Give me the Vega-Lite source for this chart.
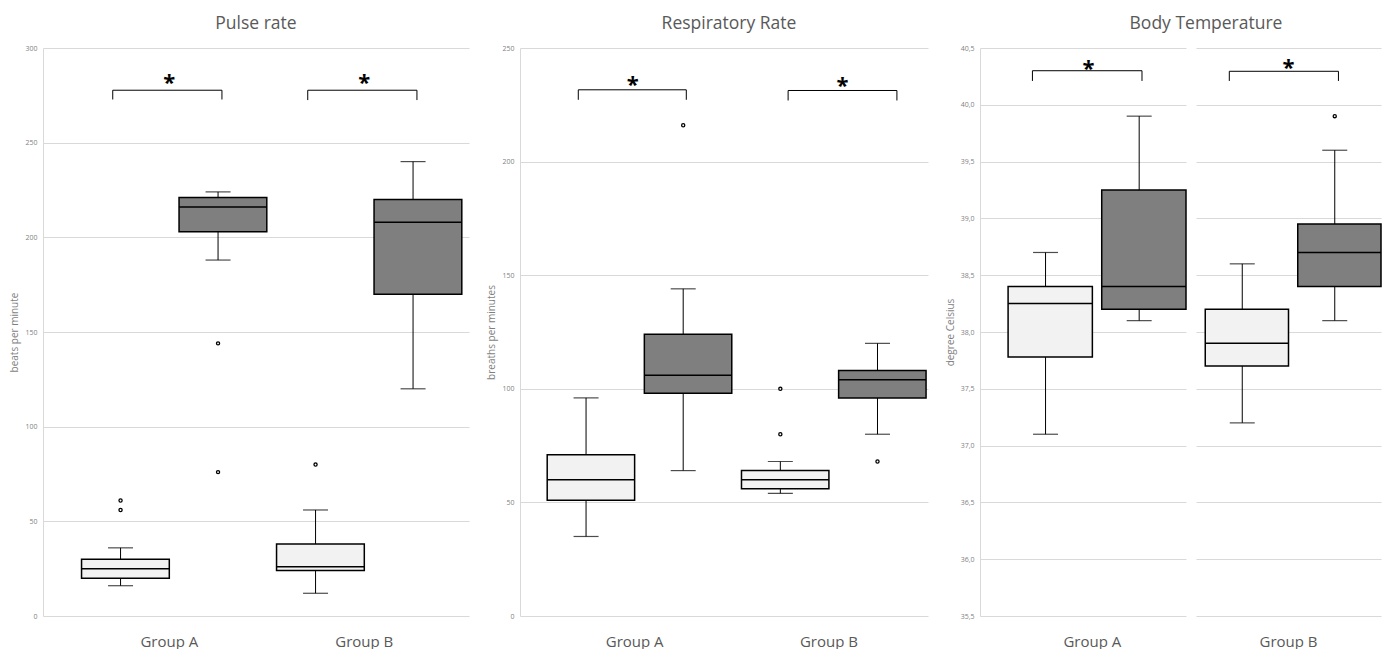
{
  "$schema": "https://vega.github.io/schema/vega-lite/v6.json",
  "padding": {"left": 9, "top": 14, "right": 0, "bottom": 0},
  "spacing": 17,
  "background": "white",
  "datasets": {
    "boxes": [
      {"panel": "Pulse rate", "group": "Group A", "series": "Series 1", "lower": 16, "q1": 20, "median": 25, "q3": 30, "upper": 36},
      {"panel": "Pulse rate", "group": "Group A", "series": "Series 2", "lower": 188, "q1": 203, "median": 216, "q3": 221, "upper": 224},
      {"panel": "Pulse rate", "group": "Group B", "series": "Series 1", "lower": 12, "q1": 24, "median": 26, "q3": 38, "upper": 56},
      {"panel": "Pulse rate", "group": "Group B", "series": "Series 2", "lower": 120, "q1": 170, "median": 208, "q3": 220, "upper": 240},
      {"panel": "Respiratory Rate", "group": "Group A", "series": "Series 1", "lower": 35, "q1": 51, "median": 60, "q3": 71, "upper": 96},
      {"panel": "Respiratory Rate", "group": "Group A", "series": "Series 2", "lower": 64, "q1": 98, "median": 106, "q3": 124, "upper": 144},
      {"panel": "Respiratory Rate", "group": "Group B", "series": "Series 1", "lower": 54, "q1": 56, "median": 60, "q3": 64, "upper": 68},
      {"panel": "Respiratory Rate", "group": "Group B", "series": "Series 2", "lower": 80, "q1": 96, "median": 104, "q3": 108, "upper": 120},
      {"panel": "Body Temperature", "group": "Group A", "series": "Series 1", "lower": 37.1, "q1": 37.78, "median": 38.25, "q3": 38.4, "upper": 38.7},
      {"panel": "Body Temperature", "group": "Group A", "series": "Series 2", "lower": 38.1, "q1": 38.2, "median": 38.4, "q3": 39.25, "upper": 39.9},
      {"panel": "Body Temperature", "group": "Group B", "series": "Series 1", "lower": 37.2, "q1": 37.7, "median": 37.9, "q3": 38.2, "upper": 38.6},
      {"panel": "Body Temperature", "group": "Group B", "series": "Series 2", "lower": 38.1, "q1": 38.4, "median": 38.7, "q3": 38.95, "upper": 39.6}
    ],
    "outliers": [
      {"panel": "Pulse rate", "group": "Group A", "series": "Series 1", "value": 61},
      {"panel": "Pulse rate", "group": "Group A", "series": "Series 1", "value": 56},
      {"panel": "Pulse rate", "group": "Group A", "series": "Series 2", "value": 144},
      {"panel": "Pulse rate", "group": "Group A", "series": "Series 2", "value": 76},
      {"panel": "Pulse rate", "group": "Group B", "series": "Series 1", "value": 80},
      {"panel": "Respiratory Rate", "group": "Group A", "series": "Series 2", "value": 216},
      {"panel": "Respiratory Rate", "group": "Group B", "series": "Series 1", "value": 100},
      {"panel": "Respiratory Rate", "group": "Group B", "series": "Series 1", "value": 80},
      {"panel": "Respiratory Rate", "group": "Group B", "series": "Series 2", "value": 68},
      {"panel": "Body Temperature", "group": "Group B", "series": "Series 2", "value": 39.9}
    ],
    "brackets": [
      {"panel": "Pulse rate", "group": "Group A", "top": 277.7, "leg": 272.8, "star": 284.6, "label": "*"},
      {"panel": "Pulse rate", "group": "Group B", "top": 277.7, "leg": 272.5, "star": 284.5, "label": "*"},
      {"panel": "Respiratory Rate", "group": "Group A", "top": 231.6, "leg": 227.2, "star": 236.5, "label": "*"},
      {"panel": "Respiratory Rate", "group": "Group B", "top": 231.3, "leg": 226.9, "star": 235.7, "label": "*"},
      {"panel": "Body Temperature", "group": "Group A", "top": 40.3, "leg": 40.21, "star": 40.37, "label": "*"},
      {"panel": "Body Temperature", "group": "Group B", "top": 40.295, "leg": 40.21, "star": 40.38, "label": "*"}
    ]
  },
  "config": {
    "font": "Open Sans",
    "view": {"stroke": null},
    "axisY": {"grid": true, "gridColor": "#d9d9d9", "gridWidth": 1, "domainColor": "#d9d9d9", "ticks": false, "tickSize": 0, "labelFontSize": 7, "labelColor": "#7f7f7f", "labelPadding": 6, "titleFontSize": 10, "titleColor": "#7f7f7f", "titleFontWeight": "normal", "titlePadding": 5},
    "axisX": {"domain": false, "ticks": false, "tickSize": 0, "grid": false, "labelAngle": 0, "labelFontSize": 15, "labelColor": "#595959", "labelPadding": 18},
    "title": {"fontSize": 17.5, "fontWeight": "normal", "color": "#595959", "frame": "group", "anchor": "middle", "offset": 12}
  },
  "resolve": {"scale": {"x": "independent", "y": "independent", "xOffset": "independent"}},
  "hconcat": [
    {
      "title": {"text": "Pulse rate", "anchor": "middle"},
      "width": 426, "height": 568,
      "layer": [
        {"data": {"name": "boxes"}, "transform": [{"filter": "datum.panel == 'Pulse rate'"}],
         "mark": {"type": "rule", "color": "#000000", "strokeWidth": 1},
         "encoding": {
           "x": {"field": "group", "type": "nominal", "title": null, "scale": {"paddingInner": 0, "paddingOuter": 0.0923, "align": 0.8}},
           "xOffset": {"field": "series", "type": "nominal", "scale": {"domain": ["Series 1", "Series 2"], "paddingInner": 0, "paddingOuter": 0}},
           "y": {"field": "lower", "type": "quantitative", "scale": {"domain": [0, 300], "nice": false}, "axis": {"title": "beats per minute", "values": [0, 50, 100, 150, 200, 250, 300]}},
           "y2": {"field": "upper"}
         }},
        {"data": {"name": "boxes"}, "transform": [{"filter": "datum.panel == 'Pulse rate'"}],
         "mark": {"type": "tick", "color": "#000000", "size": 25, "thickness": 1.2},
         "encoding": {"x": {"field": "group", "type": "nominal", "title": null}, "xOffset": {"field": "series", "type": "nominal"}, "y": {"field": "lower", "type": "quantitative"}}},
        {"data": {"name": "boxes"}, "transform": [{"filter": "datum.panel == 'Pulse rate'"}],
         "mark": {"type": "tick", "color": "#000000", "size": 25, "thickness": 1.2},
         "encoding": {"x": {"field": "group", "type": "nominal", "title": null}, "xOffset": {"field": "series", "type": "nominal"}, "y": {"field": "upper", "type": "quantitative"}}},
        {"data": {"name": "boxes"}, "transform": [{"filter": "datum.panel == 'Pulse rate'"}],
         "mark": {"type": "bar", "stroke": "#000000", "strokeWidth": 1.5, "width": {"band": 0.9}},
         "encoding": {"x": {"field": "group", "type": "nominal", "title": null}, "xOffset": {"field": "series", "type": "nominal"}, "y": {"field": "q1", "type": "quantitative"}, "y2": {"field": "q3"},
           "fill": {"field": "series", "type": "nominal", "scale": {"domain": ["Series 1", "Series 2"], "range": ["#f2f2f2", "#7f7f7f"]}, "legend": null}}},
        {"data": {"name": "boxes"}, "transform": [{"filter": "datum.panel == 'Pulse rate'"}],
         "mark": {"type": "bar", "fill": null, "stroke": "#000000", "strokeWidth": 1.5, "width": {"band": 0.9}},
         "encoding": {"x": {"field": "group", "type": "nominal", "title": null}, "xOffset": {"field": "series", "type": "nominal"}, "y": {"field": "median", "type": "quantitative"}, "y2": {"field": "median"}}},
        {"data": {"name": "outliers"}, "transform": [{"filter": "datum.panel == 'Pulse rate'"}],
         "mark": {"type": "point", "filled": true, "fill": "#ffffff", "stroke": "#000000", "strokeWidth": 1.3, "size": 10, "opacity": 1},
         "encoding": {"x": {"field": "group", "type": "nominal", "title": null}, "xOffset": {"field": "series", "type": "nominal"}, "y": {"field": "value", "type": "quantitative"}}},
        {"data": {"name": "brackets"}, "transform": [{"filter": "datum.panel == 'Pulse rate'"}],
         "mark": {"type": "rule", "color": "#000000", "strokeWidth": 1},
         "encoding": {"x": {"field": "group", "type": "nominal", "title": null, "bandPosition": 0.21}, "x2": {"field": "group", "bandPosition": 0.77}, "y": {"field": "top", "type": "quantitative"}}},
        {"data": {"name": "brackets"}, "transform": [{"filter": "datum.panel == 'Pulse rate'"}],
         "mark": {"type": "rule", "color": "#000000", "strokeWidth": 1},
         "encoding": {"x": {"field": "group", "type": "nominal", "title": null, "bandPosition": 0.21}, "y": {"field": "top", "type": "quantitative"}, "y2": {"field": "leg"}}},
        {"data": {"name": "brackets"}, "transform": [{"filter": "datum.panel == 'Pulse rate'"}],
         "mark": {"type": "rule", "color": "#000000", "strokeWidth": 1},
         "encoding": {"x": {"field": "group", "type": "nominal", "title": null, "bandPosition": 0.77}, "y": {"field": "top", "type": "quantitative"}, "y2": {"field": "leg"}}},
        {"data": {"name": "brackets"}, "transform": [{"filter": "datum.panel == 'Pulse rate'"}],
         "mark": {"type": "text", "color": "#000000", "fontSize": 22, "fontWeight": "bold", "baseline": "middle", "dy": 6},
         "encoding": {"x": {"field": "group", "type": "nominal", "title": null, "bandPosition": 0.5}, "y": {"field": "star", "type": "quantitative"}, "text": {"field": "label"}}}
      ]
    },
    {
      "title": {"text": "Respiratory Rate", "dx": 5, "anchor": "middle"},
      "width": 408, "height": 568,
      "layer": [
        {"data": {"name": "boxes"}, "transform": [{"filter": "datum.panel == 'Respiratory Rate'"}],
         "mark": {"type": "rule", "color": "#000000", "strokeWidth": 1},
         "encoding": {
           "x": {"field": "group", "type": "nominal", "title": null, "scale": {"paddingInner": 0, "paddingOuter": 0.05, "align": 0.9}},
           "xOffset": {"field": "series", "type": "nominal", "scale": {"domain": ["Series 1", "Series 2"], "paddingInner": 0, "paddingOuter": 0}},
           "y": {"field": "lower", "type": "quantitative", "scale": {"domain": [0, 250], "nice": false}, "axis": {"title": "breaths per minutes", "values": [0, 50, 100, 150, 200, 250]}},
           "y2": {"field": "upper"}
         }},
        {"data": {"name": "boxes"}, "transform": [{"filter": "datum.panel == 'Respiratory Rate'"}],
         "mark": {"type": "tick", "color": "#000000", "size": 25, "thickness": 1.2},
         "encoding": {"x": {"field": "group", "type": "nominal", "title": null}, "xOffset": {"field": "series", "type": "nominal"}, "y": {"field": "lower", "type": "quantitative"}}},
        {"data": {"name": "boxes"}, "transform": [{"filter": "datum.panel == 'Respiratory Rate'"}],
         "mark": {"type": "tick", "color": "#000000", "size": 25, "thickness": 1.2},
         "encoding": {"x": {"field": "group", "type": "nominal", "title": null}, "xOffset": {"field": "series", "type": "nominal"}, "y": {"field": "upper", "type": "quantitative"}}},
        {"data": {"name": "boxes"}, "transform": [{"filter": "datum.panel == 'Respiratory Rate'"}],
         "mark": {"type": "bar", "stroke": "#000000", "strokeWidth": 1.5, "width": {"band": 0.9}},
         "encoding": {"x": {"field": "group", "type": "nominal", "title": null}, "xOffset": {"field": "series", "type": "nominal"}, "y": {"field": "q1", "type": "quantitative"}, "y2": {"field": "q3"},
           "fill": {"field": "series", "type": "nominal", "scale": {"domain": ["Series 1", "Series 2"], "range": ["#f2f2f2", "#7f7f7f"]}, "legend": null}}},
        {"data": {"name": "boxes"}, "transform": [{"filter": "datum.panel == 'Respiratory Rate'"}],
         "mark": {"type": "bar", "fill": null, "stroke": "#000000", "strokeWidth": 1.5, "width": {"band": 0.9}},
         "encoding": {"x": {"field": "group", "type": "nominal", "title": null}, "xOffset": {"field": "series", "type": "nominal"}, "y": {"field": "median", "type": "quantitative"}, "y2": {"field": "median"}}},
        {"data": {"name": "outliers"}, "transform": [{"filter": "datum.panel == 'Respiratory Rate'"}],
         "mark": {"type": "point", "filled": true, "fill": "#ffffff", "stroke": "#000000", "strokeWidth": 1.3, "size": 10, "opacity": 1},
         "encoding": {"x": {"field": "group", "type": "nominal", "title": null}, "xOffset": {"field": "series", "type": "nominal"}, "y": {"field": "value", "type": "quantitative"}}},
        {"data": {"name": "brackets"}, "transform": [{"filter": "datum.panel == 'Respiratory Rate' && datum.group == 'Group A'"}],
         "mark": {"type": "rule", "color": "#000000", "strokeWidth": 1},
         "encoding": {"x": {"field": "group", "type": "nominal", "title": null, "bandPosition": 0.21}, "x2": {"field": "group", "bandPosition": 0.766}, "y": {"field": "top", "type": "quantitative"}}},
        {"data": {"name": "brackets"}, "transform": [{"filter": "datum.panel == 'Respiratory Rate' && datum.group == 'Group A'"}],
         "mark": {"type": "rule", "color": "#000000", "strokeWidth": 1},
         "encoding": {"x": {"field": "group", "type": "nominal", "title": null, "bandPosition": 0.21}, "y": {"field": "top", "type": "quantitative"}, "y2": {"field": "leg"}}},
        {"data": {"name": "brackets"}, "transform": [{"filter": "datum.panel == 'Respiratory Rate' && datum.group == 'Group A'"}],
         "mark": {"type": "rule", "color": "#000000", "strokeWidth": 1},
         "encoding": {"x": {"field": "group", "type": "nominal", "title": null, "bandPosition": 0.766}, "y": {"field": "top", "type": "quantitative"}, "y2": {"field": "leg"}}},
        {"data": {"name": "brackets"}, "transform": [{"filter": "datum.panel == 'Respiratory Rate' && datum.group == 'Group A'"}],
         "mark": {"type": "text", "color": "#000000", "fontSize": 22, "fontWeight": "bold", "baseline": "middle", "dy": 6},
         "encoding": {"x": {"field": "group", "type": "nominal", "title": null, "bandPosition": 0.49}, "y": {"field": "star", "type": "quantitative"}, "text": {"field": "label"}}},
        {"data": {"name": "brackets"}, "transform": [{"filter": "datum.panel == 'Respiratory Rate' && datum.group == 'Group B'"}],
         "mark": {"type": "rule", "color": "#000000", "strokeWidth": 1},
         "encoding": {"x": {"field": "group", "type": "nominal", "title": null, "bandPosition": 0.29}, "x2": {"field": "group", "bandPosition": 0.85}, "y": {"field": "top", "type": "quantitative"}}},
        {"data": {"name": "brackets"}, "transform": [{"filter": "datum.panel == 'Respiratory Rate' && datum.group == 'Group B'"}],
         "mark": {"type": "rule", "color": "#000000", "strokeWidth": 1},
         "encoding": {"x": {"field": "group", "type": "nominal", "title": null, "bandPosition": 0.29}, "y": {"field": "top", "type": "quantitative"}, "y2": {"field": "leg"}}},
        {"data": {"name": "brackets"}, "transform": [{"filter": "datum.panel == 'Respiratory Rate' && datum.group == 'Group B'"}],
         "mark": {"type": "rule", "color": "#000000", "strokeWidth": 1},
         "encoding": {"x": {"field": "group", "type": "nominal", "title": null, "bandPosition": 0.85}, "y": {"field": "top", "type": "quantitative"}, "y2": {"field": "leg"}}},
        {"data": {"name": "brackets"}, "transform": [{"filter": "datum.panel == 'Respiratory Rate' && datum.group == 'Group B'"}],
         "mark": {"type": "text", "color": "#000000", "fontSize": 22, "fontWeight": "bold", "baseline": "middle", "dy": 6},
         "encoding": {"x": {"field": "group", "type": "nominal", "title": null, "bandPosition": 0.57}, "y": {"field": "star", "type": "quantitative"}, "text": {"field": "label"}}}
      ]
    },
    {
      "title": {"text": "Body Temperature", "dx": 226, "anchor": "middle", "frame": "group"},
      "spacing": 9,
      "resolve": {"scale": {"x": "independent", "y": "independent", "xOffset": "independent"}},
      "hconcat": [
        {
          "width": 206, "height": 568,
          "layer": [
            {"data": {"name": "boxes"}, "transform": [{"filter": "datum.panel == 'Body Temperature' && datum.group == 'Group A'"}],
             "mark": {"type": "rule", "color": "#000000", "strokeWidth": 1},
             "encoding": {
               "x": {"field": "group", "type": "nominal", "title": null, "scale": {"paddingInner": 0, "paddingOuter": 0.05, "align": 1}},
               "xOffset": {"field": "series", "type": "nominal", "scale": {"domain": ["Series 1", "Series 2"], "paddingInner": 0, "paddingOuter": 0}},
               "y": {"field": "lower", "type": "quantitative", "scale": {"domain": [35.5, 40.5], "nice": false, "zero": false}, "axis": {"title": "degree Celsius", "values": [35.5, 36, 36.5, 37, 37.5, 38, 38.5, 39, 39.5, 40, 40.5], "labelExpr": "replace(format(datum.value, '.1f'), '.', ',')"}},
               "y2": {"field": "upper"}
             }},
            {"data": {"name": "boxes"}, "transform": [{"filter": "datum.panel == 'Body Temperature' && datum.group == 'Group A'"}],
             "mark": {"type": "tick", "color": "#000000", "size": 25, "thickness": 1.2},
             "encoding": {"x": {"field": "group", "type": "nominal", "title": null}, "xOffset": {"field": "series", "type": "nominal"}, "y": {"field": "lower", "type": "quantitative"}}},
            {"data": {"name": "boxes"}, "transform": [{"filter": "datum.panel == 'Body Temperature' && datum.group == 'Group A'"}],
             "mark": {"type": "tick", "color": "#000000", "size": 25, "thickness": 1.2},
             "encoding": {"x": {"field": "group", "type": "nominal", "title": null}, "xOffset": {"field": "series", "type": "nominal"}, "y": {"field": "upper", "type": "quantitative"}}},
            {"data": {"name": "boxes"}, "transform": [{"filter": "datum.panel == 'Body Temperature' && datum.group == 'Group A'"}],
             "mark": {"type": "bar", "stroke": "#000000", "strokeWidth": 1.5, "width": {"band": 0.9}},
             "encoding": {"x": {"field": "group", "type": "nominal", "title": null}, "xOffset": {"field": "series", "type": "nominal"}, "y": {"field": "q1", "type": "quantitative"}, "y2": {"field": "q3"},
               "fill": {"field": "series", "type": "nominal", "scale": {"domain": ["Series 1", "Series 2"], "range": ["#f2f2f2", "#7f7f7f"]}, "legend": null}}},
            {"data": {"name": "boxes"}, "transform": [{"filter": "datum.panel == 'Body Temperature' && datum.group == 'Group A'"}],
             "mark": {"type": "bar", "fill": null, "stroke": "#000000", "strokeWidth": 1.5, "width": {"band": 0.9}},
             "encoding": {"x": {"field": "group", "type": "nominal", "title": null}, "xOffset": {"field": "series", "type": "nominal"}, "y": {"field": "median", "type": "quantitative"}, "y2": {"field": "median"}}},
            {"data": {"name": "brackets"}, "transform": [{"filter": "datum.panel == 'Body Temperature' && datum.group == 'Group A'"}],
             "mark": {"type": "rule", "color": "#000000", "strokeWidth": 1},
             "encoding": {"x": {"field": "group", "type": "nominal", "title": null, "bandPosition": 0.18}, "x2": {"field": "group", "bandPosition": 0.765}, "y": {"field": "top", "type": "quantitative"}}},
            {"data": {"name": "brackets"}, "transform": [{"filter": "datum.panel == 'Body Temperature' && datum.group == 'Group A'"}],
             "mark": {"type": "rule", "color": "#000000", "strokeWidth": 1},
             "encoding": {"x": {"field": "group", "type": "nominal", "title": null, "bandPosition": 0.18}, "y": {"field": "top", "type": "quantitative"}, "y2": {"field": "leg"}}},
            {"data": {"name": "brackets"}, "transform": [{"filter": "datum.panel == 'Body Temperature' && datum.group == 'Group A'"}],
             "mark": {"type": "rule", "color": "#000000", "strokeWidth": 1},
             "encoding": {"x": {"field": "group", "type": "nominal", "title": null, "bandPosition": 0.765}, "y": {"field": "top", "type": "quantitative"}, "y2": {"field": "leg"}}},
            {"data": {"name": "brackets"}, "transform": [{"filter": "datum.panel == 'Body Temperature' && datum.group == 'Group A'"}],
             "mark": {"type": "text", "color": "#000000", "fontSize": 22, "fontWeight": "bold", "baseline": "middle", "dy": 6},
             "encoding": {"x": {"field": "group", "type": "nominal", "title": null, "bandPosition": 0.48}, "y": {"field": "star", "type": "quantitative"}, "text": {"field": "label"}}}
          ]
        },
        {
          "width": 185, "height": 568,
          "layer": [
            {"data": {"name": "boxes"}, "transform": [{"filter": "datum.panel == 'Body Temperature' && datum.group == 'Group B'"}],
             "mark": {"type": "rule", "color": "#000000", "strokeWidth": 1},
             "encoding": {
               "x": {"field": "group", "type": "nominal", "title": null, "scale": {"paddingInner": 0, "paddingOuter": 0}},
               "xOffset": {"field": "series", "type": "nominal", "scale": {"domain": ["Series 1", "Series 2"], "paddingInner": 0, "paddingOuter": 0}},
               "y": {"field": "lower", "type": "quantitative", "scale": {"domain": [35.5, 40.5], "nice": false, "zero": false}, "axis": {"title": null, "labels": false, "domain": false, "values": [35.5, 36, 36.5, 37, 37.5, 38, 38.5, 39, 39.5, 40, 40.5]}},
               "y2": {"field": "upper"}
             }},
            {"data": {"name": "boxes"}, "transform": [{"filter": "datum.panel == 'Body Temperature' && datum.group == 'Group B'"}],
             "mark": {"type": "tick", "color": "#000000", "size": 25, "thickness": 1.2},
             "encoding": {"x": {"field": "group", "type": "nominal", "title": null}, "xOffset": {"field": "series", "type": "nominal"}, "y": {"field": "lower", "type": "quantitative"}}},
            {"data": {"name": "boxes"}, "transform": [{"filter": "datum.panel == 'Body Temperature' && datum.group == 'Group B'"}],
             "mark": {"type": "tick", "color": "#000000", "size": 25, "thickness": 1.2},
             "encoding": {"x": {"field": "group", "type": "nominal", "title": null}, "xOffset": {"field": "series", "type": "nominal"}, "y": {"field": "upper", "type": "quantitative"}}},
            {"data": {"name": "boxes"}, "transform": [{"filter": "datum.panel == 'Body Temperature' && datum.group == 'Group B'"}],
             "mark": {"type": "bar", "stroke": "#000000", "strokeWidth": 1.5, "width": {"band": 0.9}},
             "encoding": {"x": {"field": "group", "type": "nominal", "title": null}, "xOffset": {"field": "series", "type": "nominal"}, "y": {"field": "q1", "type": "quantitative"}, "y2": {"field": "q3"},
               "fill": {"field": "series", "type": "nominal", "scale": {"domain": ["Series 1", "Series 2"], "range": ["#f2f2f2", "#7f7f7f"]}, "legend": null}}},
            {"data": {"name": "boxes"}, "transform": [{"filter": "datum.panel == 'Body Temperature' && datum.group == 'Group B'"}],
             "mark": {"type": "bar", "fill": null, "stroke": "#000000", "strokeWidth": 1.5, "width": {"band": 0.9}},
             "encoding": {"x": {"field": "group", "type": "nominal", "title": null}, "xOffset": {"field": "series", "type": "nominal"}, "y": {"field": "median", "type": "quantitative"}, "y2": {"field": "median"}}},
            {"data": {"name": "outliers"}, "transform": [{"filter": "datum.panel == 'Body Temperature' && datum.group == 'Group B'"}],
             "mark": {"type": "point", "filled": true, "fill": "#ffffff", "stroke": "#000000", "strokeWidth": 1.3, "size": 10, "opacity": 1},
             "encoding": {"x": {"field": "group", "type": "nominal", "title": null}, "xOffset": {"field": "series", "type": "nominal"}, "y": {"field": "value", "type": "quantitative"}}},
            {"data": {"name": "brackets"}, "transform": [{"filter": "datum.panel == 'Body Temperature' && datum.group == 'Group B'"}],
             "mark": {"type": "rule", "color": "#000000", "strokeWidth": 1},
             "encoding": {"x": {"field": "group", "type": "nominal", "title": null, "bandPosition": 0.18}, "x2": {"field": "group", "bandPosition": 0.77}, "y": {"field": "top", "type": "quantitative"}}},
            {"data": {"name": "brackets"}, "transform": [{"filter": "datum.panel == 'Body Temperature' && datum.group == 'Group B'"}],
             "mark": {"type": "rule", "color": "#000000", "strokeWidth": 1},
             "encoding": {"x": {"field": "group", "type": "nominal", "title": null, "bandPosition": 0.18}, "y": {"field": "top", "type": "quantitative"}, "y2": {"field": "leg"}}},
            {"data": {"name": "brackets"}, "transform": [{"filter": "datum.panel == 'Body Temperature' && datum.group == 'Group B'"}],
             "mark": {"type": "rule", "color": "#000000", "strokeWidth": 1},
             "encoding": {"x": {"field": "group", "type": "nominal", "title": null, "bandPosition": 0.77}, "y": {"field": "top", "type": "quantitative"}, "y2": {"field": "leg"}}},
            {"data": {"name": "brackets"}, "transform": [{"filter": "datum.panel == 'Body Temperature' && datum.group == 'Group B'"}],
             "mark": {"type": "text", "color": "#000000", "fontSize": 22, "fontWeight": "bold", "baseline": "middle", "dy": 6},
             "encoding": {"x": {"field": "group", "type": "nominal", "title": null, "bandPosition": 0.5}, "y": {"field": "star", "type": "quantitative"}, "text": {"field": "label"}}}
          ]
        }
      ]
    }
  ]
}
